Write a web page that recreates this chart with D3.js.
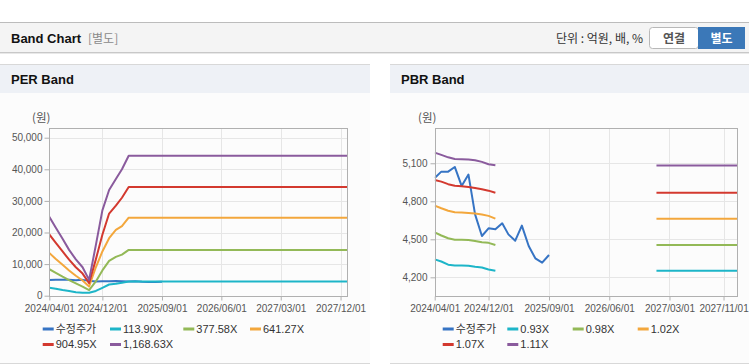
<!DOCTYPE html>
<html><head><meta charset="utf-8">
<script src="https://cdn.jsdelivr.net/npm/d3@7"></script>
<style>
body{margin:0;background:#fff;}
svg{display:block;font-family:"Liberation Sans",Arial,"Noto Sans CJK KR",sans-serif;}
</style></head><body>
<svg id="c" width="749" height="364"></svg>
<script>
// ---------- data ----------
const priceDates = ["2024/04/01","2024/05/01","2024/06/01","2024/07/01","2024/08/01","2024/09/01","2024/10/01","2024/11/01","2024/12/01",
  "2025/01/01","2025/02/01","2025/03/01","2025/04/01","2025/05/01","2025/06/01","2025/07/01","2025/08/01","2025/09/01"];
const priceValues = [4984,5034,5034,5071,4921,5011,4697,4526,4587,4579,4626,4539,4489,4608,4447,4350,4316,4376];

const perBandDates = ["2024/04/01","2024/05/01","2024/06/01","2024/07/01","2024/08/01","2024/09/01","2024/10/01","2024/11/01","2024/12/01",
  "2025/01/01","2025/02/01","2025/03/01","2025/04/01","2028/01/01"];
const perBandNames = ["113.90X","377.58X","641.27X","904.95X","1,168.63X"];
const per113 = [2500,2200,1800,1500,1100,950,950,1500,2500,3550,3800,4100,4500,4500];
const per377 = [8400,7200,6000,4900,3900,2900,1800,4500,8000,11000,12300,13000,14500,14500];
const per641 = [13500,11600,9800,8000,6300,4800,2900,9000,14000,18200,20800,22000,24700,24700];
const per905 = [19400,16700,14000,11400,9000,7000,4000,11500,19300,26000,28500,31000,34400,34400];
const per1168 = [25000,21500,18000,14500,11500,9000,5000,16000,27000,33450,36900,40000,44300,44300];

const pbrBandDates = ["2024/04/01","2024/05/01","2024/06/01","2024/07/01","2024/08/01","2024/09/01","2024/10/01","2024/11/01","2024/12/01",
  "2025/01/01","2026/12/01","2027/01/01","2028/01/01"];
const pbrBandNames = ["0.93X","0.98X","1.02X","1.07X","1.11X"];
const pbr093 = [4342,4325,4300,4294,4293,4292,4283,4277,4262,4252,null,4252,4252];
const pbr098 = [4555,4530,4508,4497,4496,4495,4487,4476,4472,4455,null,4455,4455];
const pbr102 = [4766,4745,4725,4714,4712,4708,4703,4695,4685,4663,null,4662,4662];
const pbr107 = [4968,4955,4935,4922,4918,4913,4905,4895,4884,4868,null,4868,4868];
const pbr111 = [5184,5166,5147,5134,5132,5129,5124,5111,5092,5084,null,5082,5082];

const priceName = "수정주가";
const perXTicks = ["2024/04/01","2024/12/01","2025/09/01","2026/06/01","2027/03/01","2027/12/01"];
const pbrXTicks = ["2024/04/01","2024/12/01","2025/09/01","2026/06/01","2027/03/01","2027/11/01"];
const perYTicks = [0,10000,20000,30000,40000,50000];
const pbrYTicks = [4200,4500,4800,5100];
const perYDomain = [0,52975];
const pbrYDomain = [4055,5376];
const xDomain = ["2024/04/01","2028/01/01"];
const colors = ["#3674c4","#1db5c8","#93b957","#f3a73c","#d3392f","#8a5b9d"];

// ---------- page chrome ----------
const svg = d3.select("#c");
const parse = d3.timeParse("%Y/%m/%d");
const fmtDate = d3.timeFormat("%Y/%m/%d");

svg.append("rect").attr("x",0).attr("y",22).attr("width",749).attr("height",31).attr("fill","#f4f4f4");
svg.append("line").attr("x1",0).attr("x2",749).attr("y1",22.5).attr("y2",22.5).attr("stroke","#bcbcbc");
svg.append("line").attr("x1",0).attr("x2",749).attr("y1",52.5).attr("y2",52.5).attr("stroke","#c8c8c8");
svg.append("line").attr("x1",0).attr("x2",749).attr("y1",53.5).attr("y2",53.5).attr("stroke","#e8e8e8");
svg.append("text").attr("x",11).attr("y",43).attr("font-size",13).attr("font-weight","bold").attr("fill","#111").text("Band Chart");
svg.append("text").attr("x",88).attr("y",43).attr("font-size",12).attr("fill","#8a8a8a")
  .attr("font-family","'Noto Sans CJK KR',sans-serif").text("[별도]");
svg.append("text").attr("x",643).attr("y",43).attr("font-size",12).attr("fill","#333").attr("text-anchor","end")
  .attr("font-family","'Noto Sans CJK KR',sans-serif").text("단위 : 억원, 배, %");
svg.append("rect").attr("x",649.5).attr("y",27.5).attr("width",49).attr("height",21).attr("rx",3).attr("fill","#fff").attr("stroke","#b8b8b8");
svg.append("text").attr("x",674).attr("y",42.5).attr("font-size",12).attr("font-weight","bold").attr("fill","#555").attr("text-anchor","middle")
  .attr("font-family","'Noto Sans CJK KR',sans-serif").text("연결");
svg.append("rect").attr("x",698).attr("y",27).attr("width",47).attr("height",22).attr("fill","#3b78b8");
svg.append("text").attr("x",721.5).attr("y",42.5).attr("font-size",12).attr("font-weight","bold").attr("fill","#fff").attr("text-anchor","middle")
  .attr("font-family","'Noto Sans CJK KR',sans-serif").text("별도");

function panel(x, w, title){
  svg.append("rect").attr("x",x).attr("y",93).attr("width",w).attr("height",270).attr("fill","#fcfcfc");
  svg.append("rect").attr("x",x).attr("y",64).attr("width",w).attr("height",29).attr("fill","#eef1f6");
  svg.append("line").attr("x1",x).attr("x2",x+w).attr("y1",64.5).attr("y2",64.5).attr("stroke","#d8d8d8");
  svg.append("line").attr("x1",x).attr("x2",x+w).attr("y1",363.5).attr("y2",363.5).attr("stroke","#d8d8d8");
  svg.append("text").attr("x",x+11).attr("y",84).attr("font-size",13).attr("font-weight","bold").attr("fill","#111").text(title);
}
panel(0,370,"PER Band");
panel(390,359,"PBR Band");

// ---------- chart ----------
function chart(o){
  const g = svg.append("g");
  const x = d3.scaleTime().domain(xDomain.map(parse)).range([o.x0,o.x1]);
  const y = d3.scaleLinear().domain(o.yDomain).range([o.y1,o.y0]);
  const xt = o.xTicks.map(parse);
  // grid
  g.append("g").selectAll("line").data(o.yTicks).join("line")
    .attr("x1",o.x0).attr("x2",o.x1).attr("y1",d=>Math.round(y(d))+0.5).attr("y2",d=>Math.round(y(d))+0.5)
    .attr("stroke","#e6e6e6");
  g.append("g").selectAll("line").data(xt).join("line")
    .attr("y1",o.y0).attr("y2",o.y1).attr("x1",d=>Math.round(x(d))+0.5).attr("x2",d=>Math.round(x(d))+0.5)
    .attr("stroke","#e6e6e6");
  // unit
  g.append("text").attr("x",o.unitX).attr("y",122).attr("font-size",11.5).attr("fill","#555")
    .attr("font-family","'Noto Sans CJK KR',sans-serif").text("(원)");
  // lines
  const clipId = "clip"+o.id;
  g.append("clipPath").attr("id",clipId).append("rect")
    .attr("x",o.x0).attr("y",o.y0).attr("width",o.x1-o.x0).attr("height",o.y1-o.y0);
  const lg = g.append("g").attr("clip-path",`url(#${clipId})`);
  const line = d3.line().defined(d=>d.v!=null).x(d=>x(d.d)).y(d=>y(d.v));
  const series = [{name:priceName, dates:priceDates, vals:priceValues}]
    .concat(o.bands.map((b,i)=>({name:o.bandNames[i], dates:o.bandDates, vals:b})));
  series.forEach((s,i)=>{
    const pts = s.vals.map((v,j)=>({d:parse(s.dates[j]), v:v}));
    lg.append("path").datum(pts).attr("d",line).attr("fill","none")
      .attr("stroke",colors[i]).attr("stroke-width",2).attr("stroke-linejoin","round");
  });
  // frame
  g.append("rect").attr("x",Math.round(o.x0)+0.5).attr("y",Math.round(o.y0)+0.5)
    .attr("width",Math.round(o.x1)-Math.round(o.x0)).attr("height",Math.round(o.y1)-Math.round(o.y0))
    .attr("fill","none").attr("stroke","#b0b0b0");
  // axes
  const ya = g.append("g").attr("transform",`translate(${Math.round(o.x0)+0.5},0)`)
    .call(d3.axisLeft(y).tickValues(o.yTicks).tickSize(5).tickPadding(o.yPad).tickFormat(d3.format(",")));
  const xa = g.append("g").attr("transform",`translate(0,${Math.round(o.y1)+0.5})`)
    .call(d3.axisBottom(x).tickValues(xt).tickSize(4).tickPadding(4).tickFormat(fmtDate));
  [ya,xa].forEach(a=>{
    a.select(".domain").remove();
    a.selectAll(".tick line").attr("stroke","#b0b0b0");
    a.selectAll(".tick text").attr("fill","#555").attr("font-size",10)
      .attr("font-family","'Liberation Sans',Arial,sans-serif");
  });
  // legend
  const leg = g.append("g");
  series.forEach((s,i)=>{
    const row = Math.floor(i/4), col = i%4;
    const lx = o.legX + o.legCols[col], ly = [329,344.5][row];
    leg.append("line").attr("x1",lx).attr("x2",lx+11).attr("y1",ly).attr("y2",ly)
      .attr("stroke",colors[i]).attr("stroke-width",3);
    leg.append("text").attr("x",lx+13).attr("y",ly).attr("dy","0.36em").attr("font-size",11).attr("fill","#333")
      .attr("font-family","'Liberation Sans',Arial,'Noto Sans CJK KR',sans-serif").text(s.name);
  });
}

chart({id:"per", x0:49.3, x1:347.3, y0:128.3, y1:295.7, yDomain:perYDomain, yTicks:perYTicks, xTicks:perXTicks,
  bands:[per113,per377,per641,per905,per1168], bandNames:perBandNames, bandDates:perBandDates,
  unitX:32, yPad:2, legX:42.7, legCols:[0,67.3,140.6,207.3]});
chart({id:"pbr", x0:434.7, x1:737, y0:128.3, y1:295.7, yDomain:pbrYDomain, yTicks:pbrYTicks, xTicks:pbrXTicks,
  bands:[pbr093,pbr098,pbr102,pbr107,pbr111], bandNames:pbrBandNames, bandDates:pbrBandDates,
  unitX:418, yPad:3, legX:442.7, legCols:[0,64.6,130,195]});
</script>
</body></html>
